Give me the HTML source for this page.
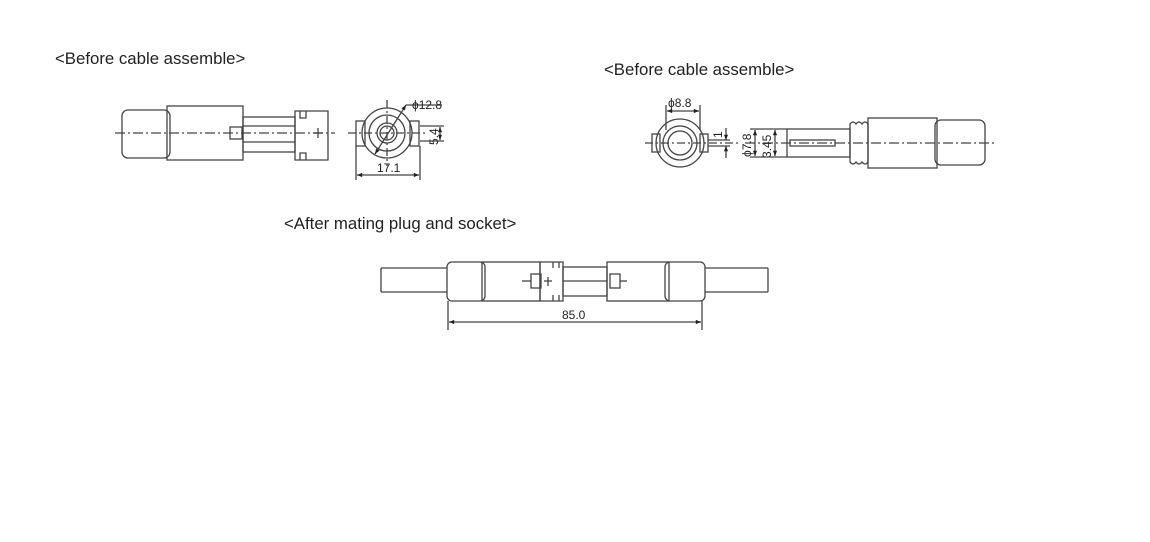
<!DOCTYPE html>
<html><head><meta charset="utf-8"><style>
body{margin:0;background:#fff;width:1150px;height:542px;overflow:hidden}
svg{position:absolute;left:0;top:0}
text{font-family:"Liberation Sans",sans-serif;fill:#222}
</style></head><body>
<svg width="1150" height="542" viewBox="0 0 1150 542">
<defs><marker id="a" viewBox="0 0 10 10" refX="10" refY="5" markerWidth="6" markerHeight="4" orient="auto-start-reverse"><path d="M0,1 L10,5 L0,9z" fill="#222"/></marker></defs>
<g font-size="16.8">
<text x="55" y="64">&lt;Before cable assemble&gt;</text>
<text x="604" y="75">&lt;Before cable assemble&gt;</text>
<text x="284" y="229">&lt;After mating plug and socket&gt;</text>
</g>
<g fill="none" stroke="#444" stroke-width="1.3">
<!-- drawing 1 side -->
<rect x="122" y="110" width="48" height="48" rx="6"/>
<rect x="167" y="106" width="76" height="54"/>
<rect x="243" y="117" width="52" height="35"/>
<line x1="243" y1="126" x2="295" y2="126"/><line x1="243" y1="142" x2="295" y2="142"/>
<path d="M295,111 H328 V160 H295 Z M300,111 V118 H306 V111 M300,160 V153 H306 V160"/>
<rect x="230" y="127" width="12" height="12"/>
<line x1="318" y1="128" x2="318" y2="138"/><line x1="313" y1="133" x2="323" y2="133"/>
<line x1="115" y1="133" x2="335" y2="133" stroke-dasharray="10,3,2,3"/>
<!-- end view 1 -->
<circle cx="387" cy="133" r="25"/><circle cx="387" cy="133" r="18"/><circle cx="387" cy="133" r="10"/><circle cx="387" cy="133" r="7"/>
<rect x="356" y="121" width="9" height="25"/><rect x="410" y="121" width="9" height="25"/>
<line x1="348" y1="133" x2="427" y2="133" stroke-dasharray="8,3,2,3"/>
<line x1="387" y1="100" x2="387" y2="166" stroke-dasharray="8,3,2,3"/>
<line x1="356" y1="146" x2="356" y2="180"/><line x1="420" y1="146" x2="420" y2="180"/>
<line x1="357" y1="175" x2="419" y2="175" marker-start="url(#a)" marker-end="url(#a)"/>
<line x1="375" y1="154" x2="406" y2="105" marker-start="url(#a)" marker-end="url(#a)"/>
<line x1="406" y1="105" x2="442" y2="105"/>
<line x1="420" y1="126" x2="444" y2="126"/><line x1="420" y1="141" x2="444" y2="141"/>
<line x1="440" y1="127" x2="440" y2="140" marker-start="url(#a)" marker-end="url(#a)"/>
<!-- drawing 2 end view -->
<circle cx="680" cy="143" r="24"/><circle cx="680" cy="143" r="17"/><circle cx="680" cy="143" r="12"/>
<rect x="652" y="134" width="8" height="18"/><rect x="700" y="134" width="8" height="18"/>
<line x1="645" y1="143" x2="740" y2="143" stroke-dasharray="8,3,2,3"/>
<line x1="666" y1="105" x2="666" y2="130"/><line x1="700" y1="105" x2="700" y2="130"/>
<line x1="667" y1="111" x2="699" y2="111" marker-start="url(#a)" marker-end="url(#a)"/>
<line x1="708" y1="140" x2="730" y2="140"/><line x1="708" y1="146" x2="730" y2="146"/>
<line x1="726" y1="128" x2="726" y2="140" marker-end="url(#a)"/><line x1="726" y1="158" x2="726" y2="146" marker-end="url(#a)"/>
<!-- drawing 2 side -->
<line x1="750" y1="129" x2="787" y2="129"/><line x1="750" y1="157" x2="787" y2="157"/>
<line x1="755" y1="130" x2="755" y2="156" marker-start="url(#a)" marker-end="url(#a)"/>
<line x1="775" y1="130" x2="775" y2="156" marker-start="url(#a)" marker-end="url(#a)"/>
<rect x="787" y="129" width="63" height="28"/>
<rect x="790" y="140" width="45" height="6"/>
<path d="M850,124 q3,-4 6,0 q3,-4 6,0 q3,-4 6,0 V162 q-3,4 -6,0 q-3,4 -6,0 q-3,4 -6,0 Z"/>
<rect x="868" y="118" width="69" height="50"/>
<rect x="935" y="120" width="50" height="45" rx="6"/>
<line x1="745" y1="143" x2="995" y2="143" stroke-dasharray="10,3,2,3"/>
<!-- drawing 3 -->
<path d="M381,268 H447 M381,292 H447 M381,268 V292 M705,268 H768 M705,292 H768 M768,268 V292"/>
<rect x="447" y="262" width="38" height="39" rx="5"/>
<rect x="482" y="262" width="58" height="39"/>
<path d="M540,262 H563 V301 H540 Z M553,262 V268 M559,262 V268 M553,301 V295 M559,301 V295"/>
<rect x="563" y="267" width="44" height="29"/>
<line x1="563" y1="281" x2="607" y2="281"/>
<rect x="607" y="262" width="62" height="39"/>
<rect x="665" y="262" width="40" height="39" rx="5"/>
<rect x="531" y="274" width="10" height="14"/><rect x="610" y="274" width="10" height="14"/>
<line x1="522" y1="281" x2="531" y2="281"/><line x1="620" y1="281" x2="627" y2="281"/>
<line x1="548" y1="277" x2="548" y2="286"/><line x1="544" y1="281" x2="552" y2="281"/>
<line x1="448" y1="301" x2="448" y2="330"/><line x1="702" y1="301" x2="702" y2="330"/>
<line x1="449" y1="322" x2="701" y2="322" marker-start="url(#a)" marker-end="url(#a)"/>
</g>
<g font-size="12">
<text x="412" y="109">ϕ12.8</text>
<text x="377" y="172">17.1</text>
<text transform="translate(438,145) rotate(-90)">5.4</text>
<text x="668" y="107">ϕ8.8</text>
<text transform="translate(722,138) rotate(-90)">1</text>
<text transform="translate(751,157) rotate(-90)">ϕ7.8</text>
<text transform="translate(771,158) rotate(-90)">3.45</text>
<text x="562" y="319">85.0</text>
</g>
</svg>
</body></html>
